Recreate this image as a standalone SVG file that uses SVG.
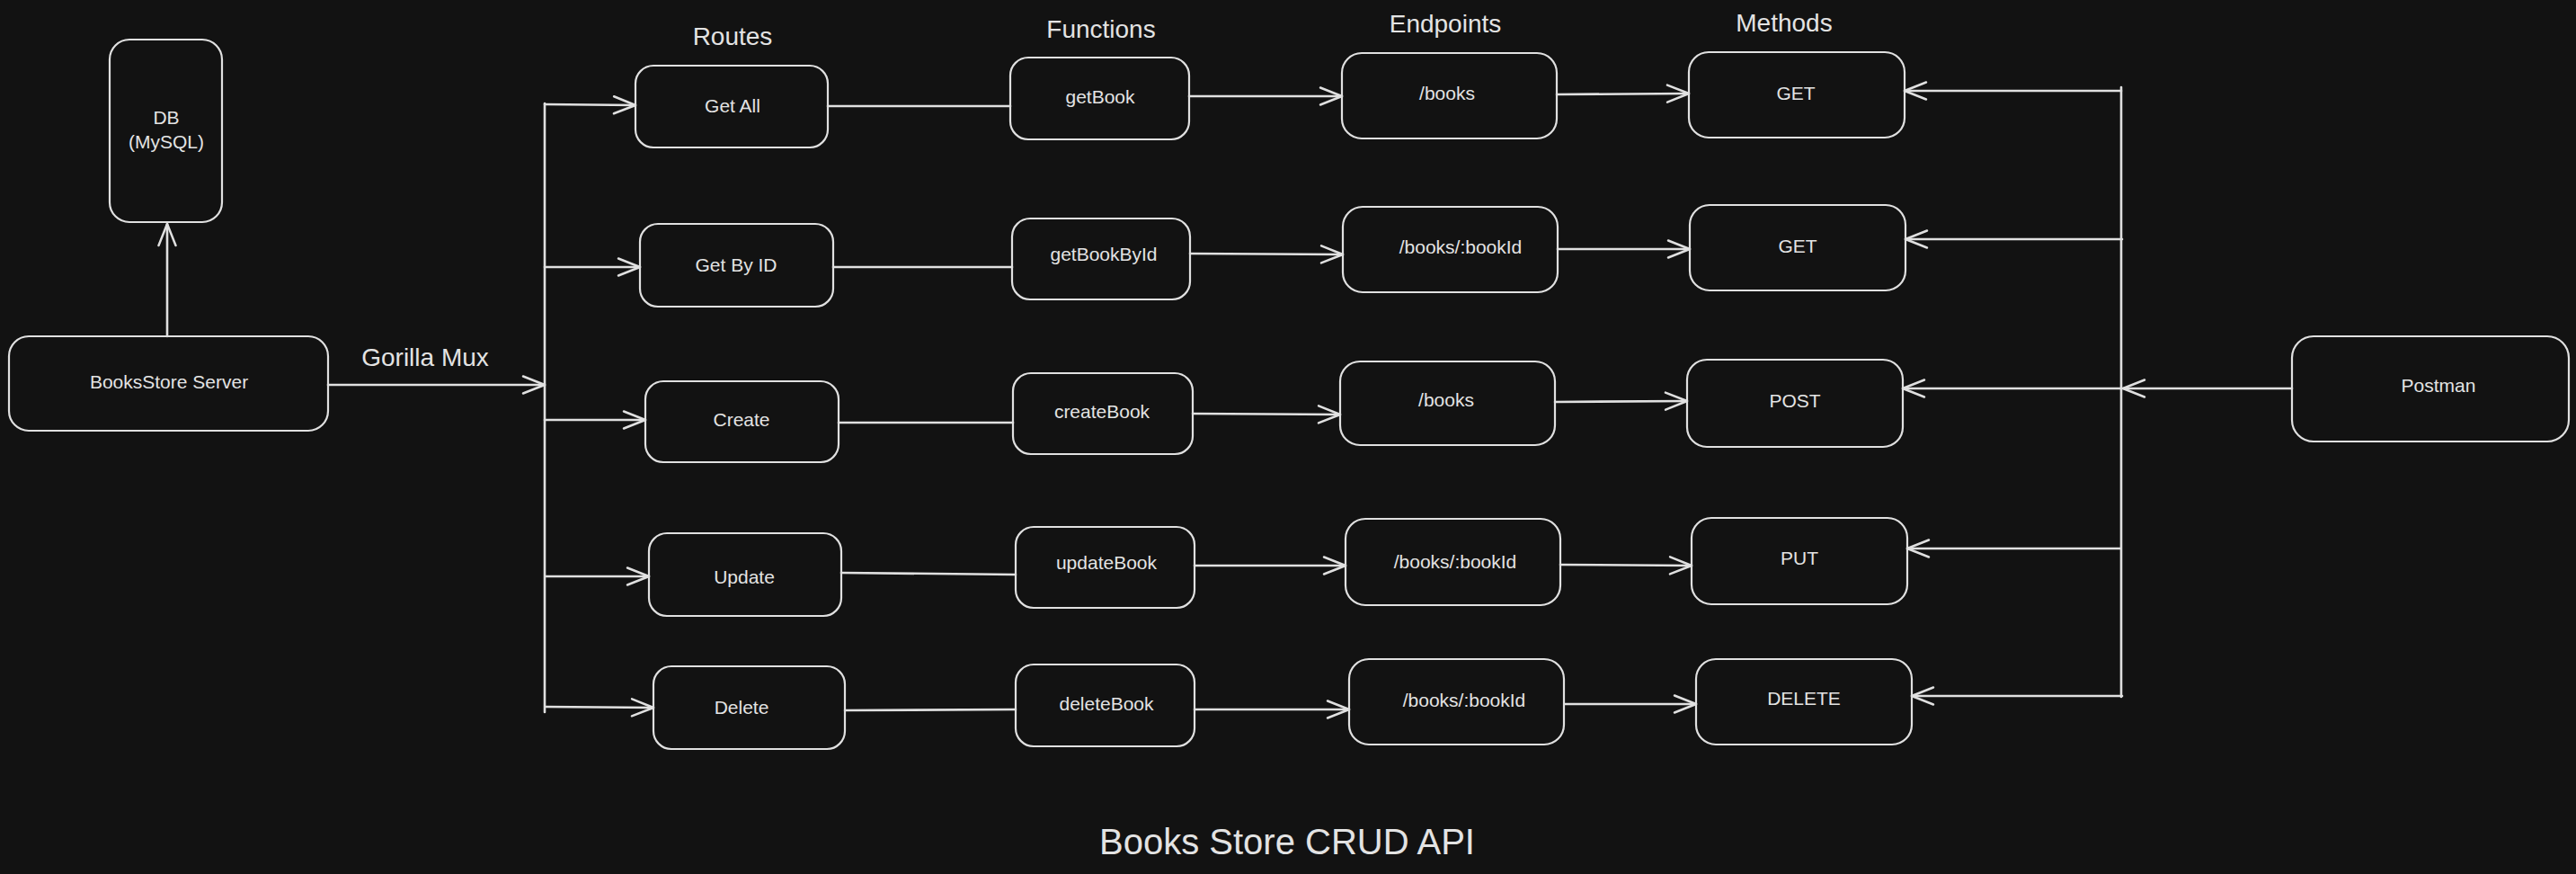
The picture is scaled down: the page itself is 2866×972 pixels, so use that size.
<svg xmlns="http://www.w3.org/2000/svg" width="2866" height="972" viewBox="0 0 2866 972">
<style>
.box{fill:none;stroke:#e0e0e0;stroke-width:2.2}
.t{font-family:"Liberation Sans",Arial,sans-serif;font-size:21px;fill:#e3e3e3;text-anchor:middle}
.h{font-family:"Liberation Sans",Arial,sans-serif;font-size:28px;fill:#e3e3e3;text-anchor:middle}
.ttl{font-family:"Liberation Sans",Arial,sans-serif;font-size:40px;fill:#e3e3e3;text-anchor:middle}
.c{fill:none;stroke:#e0e0e0;stroke-width:2.6;stroke-linecap:round}
.a{marker-end:url(#ah)}
</style>
<defs>
<marker id="ah" viewBox="-27 -13 30 26" refX="0" refY="0" markerWidth="30" markerHeight="26" markerUnits="userSpaceOnUse" orient="auto">
<path d="M-24,-9.5 L0,0 L-24,9.5" fill="none" stroke="#e0e0e0" stroke-width="2.5" stroke-linecap="round" stroke-linejoin="round"/>
</marker>
</defs>
<rect width="2866" height="972" fill="#121212"/>

<g id="headers">
<text class="h" x="815" y="50">Routes</text>
<text class="h" x="1225" y="42">Functions</text>
<text class="h" x="1608" y="36">Endpoints</text>
<text class="h" x="1985" y="35">Methods</text>
<text class="h" x="473" y="407">Gorilla Mux</text>
<text class="ttl" x="1432" y="950">Books Store CRUD API</text>
</g>

<g id="connectors">
<line class="c a" x1="186" y1="374" x2="186" y2="249"/>
<line class="c a" x1="365" y1="428" x2="606" y2="428"/>
<line class="c" x1="606" y1="115" x2="606" y2="792"/>
<line class="c a" x1="606" y1="116" x2="707" y2="117"/>
<line class="c a" x1="606" y1="297" x2="712" y2="297"/>
<line class="c a" x1="606" y1="467" x2="718" y2="467"/>
<line class="c a" x1="607" y1="641" x2="722" y2="641"/>
<line class="c a" x1="607" y1="786" x2="727" y2="787"/>
<line class="c" x1="921" y1="118" x2="1124" y2="118"/>
<line class="c" x1="927" y1="297" x2="1126" y2="297"/>
<line class="c" x1="933" y1="470" x2="1127" y2="470"/>
<line class="c" x1="936" y1="637" x2="1130" y2="639"/>
<line class="c" x1="940" y1="790" x2="1130" y2="789"/>
<line class="c a" x1="1323" y1="107" x2="1493" y2="107"/>
<line class="c a" x1="1324" y1="282" x2="1494" y2="283"/>
<line class="c a" x1="1327" y1="460" x2="1491" y2="461"/>
<line class="c a" x1="1329" y1="629" x2="1497" y2="629"/>
<line class="c a" x1="1329" y1="789" x2="1501" y2="789"/>
<line class="c a" x1="1732" y1="105" x2="1879" y2="104"/>
<line class="c a" x1="1733" y1="277" x2="1880" y2="277"/>
<line class="c a" x1="1730" y1="447" x2="1877" y2="446"/>
<line class="c a" x1="1736" y1="628" x2="1882" y2="629"/>
<line class="c a" x1="1741" y1="783" x2="1887" y2="783"/>
<line class="c" x1="2360" y1="97" x2="2360" y2="775"/>
<line class="c a" x1="2360" y1="101" x2="2119" y2="101"/>
<line class="c a" x1="2361" y1="266" x2="2120" y2="266"/>
<line class="c a" x1="2360" y1="432" x2="2117" y2="432"/>
<line class="c a" x1="2359" y1="610" x2="2122" y2="610"/>
<line class="c a" x1="2361" y1="774" x2="2127" y2="774"/>
<line class="c a" x1="2550" y1="432" x2="2362" y2="432"/>
</g>

<g id="db"><rect class="box" x="122" y="44" width="125" height="203" rx="22"/><text class="t" x="185" y="138">DB</text><text class="t" x="185" y="165">(MySQL)</text></g>
<g id="server"><rect class="box" x="10" y="374" width="355" height="105" rx="22"/><text class="t" x="188" y="432">BooksStore Server</text></g>

<g id="route-getall"><rect class="box" x="707" y="73" width="214" height="91" rx="20"/><text class="t" x="815" y="125">Get All</text></g>
<g id="route-getbyid"><rect class="box" x="712" y="249" width="215" height="92" rx="20"/><text class="t" x="819" y="302">Get By ID</text></g>
<g id="route-create"><rect class="box" x="718" y="424" width="215" height="90" rx="20"/><text class="t" x="825" y="474">Create</text></g>
<g id="route-update"><rect class="box" x="722" y="593" width="214" height="92" rx="20"/><text class="t" x="828" y="649">Update</text></g>
<g id="route-delete"><rect class="box" x="727" y="741" width="213" height="92" rx="20"/><text class="t" x="825" y="794">Delete</text></g>

<g id="fn-getbook"><rect class="box" x="1124" y="64" width="199" height="91" rx="20"/><text class="t" x="1224" y="115">getBook</text></g>
<g id="fn-getbookbyid"><rect class="box" x="1126" y="243" width="198" height="90" rx="20"/><text class="t" x="1228" y="290">getBookById</text></g>
<g id="fn-createbook"><rect class="box" x="1127" y="415" width="200" height="90" rx="20"/><text class="t" x="1226" y="465">createBook</text></g>
<g id="fn-updatebook"><rect class="box" x="1130" y="586" width="199" height="90" rx="20"/><text class="t" x="1231" y="633">updateBook</text></g>
<g id="fn-deletebook"><rect class="box" x="1130" y="739" width="199" height="91" rx="20"/><text class="t" x="1231" y="790">deleteBook</text></g>

<g id="ep-1"><rect class="box" x="1493" y="59" width="239" height="95" rx="22"/><text class="t" x="1610" y="111">/books</text></g>
<g id="ep-2"><rect class="box" x="1494" y="230" width="239" height="95" rx="22"/><text class="t" x="1625" y="282">/books/:bookId</text></g>
<g id="ep-3"><rect class="box" x="1491" y="402" width="239" height="93" rx="22"/><text class="t" x="1609" y="452">/books</text></g>
<g id="ep-4"><rect class="box" x="1497" y="577" width="239" height="96" rx="22"/><text class="t" x="1619" y="632">/books/:bookId</text></g>
<g id="ep-5"><rect class="box" x="1501" y="733" width="239" height="95" rx="22"/><text class="t" x="1629" y="786">/books/:bookId</text></g>

<g id="m-get1"><rect class="box" x="1879" y="58" width="240" height="95" rx="22"/><text class="t" x="1998" y="111">GET</text></g>
<g id="m-get2"><rect class="box" x="1880" y="228" width="240" height="95" rx="22"/><text class="t" x="2000" y="281">GET</text></g>
<g id="m-post"><rect class="box" x="1877" y="400" width="240" height="97" rx="22"/><text class="t" x="1997" y="453">POST</text></g>
<g id="m-put"><rect class="box" x="1882" y="576" width="240" height="96" rx="22"/><text class="t" x="2002" y="628">PUT</text></g>
<g id="m-delete"><rect class="box" x="1887" y="733" width="240" height="95" rx="22"/><text class="t" x="2007" y="784">DELETE</text></g>

<g id="postman"><rect class="box" x="2550" y="374" width="308" height="117" rx="24"/><text class="t" x="2713" y="436">Postman</text></g>
</svg>
